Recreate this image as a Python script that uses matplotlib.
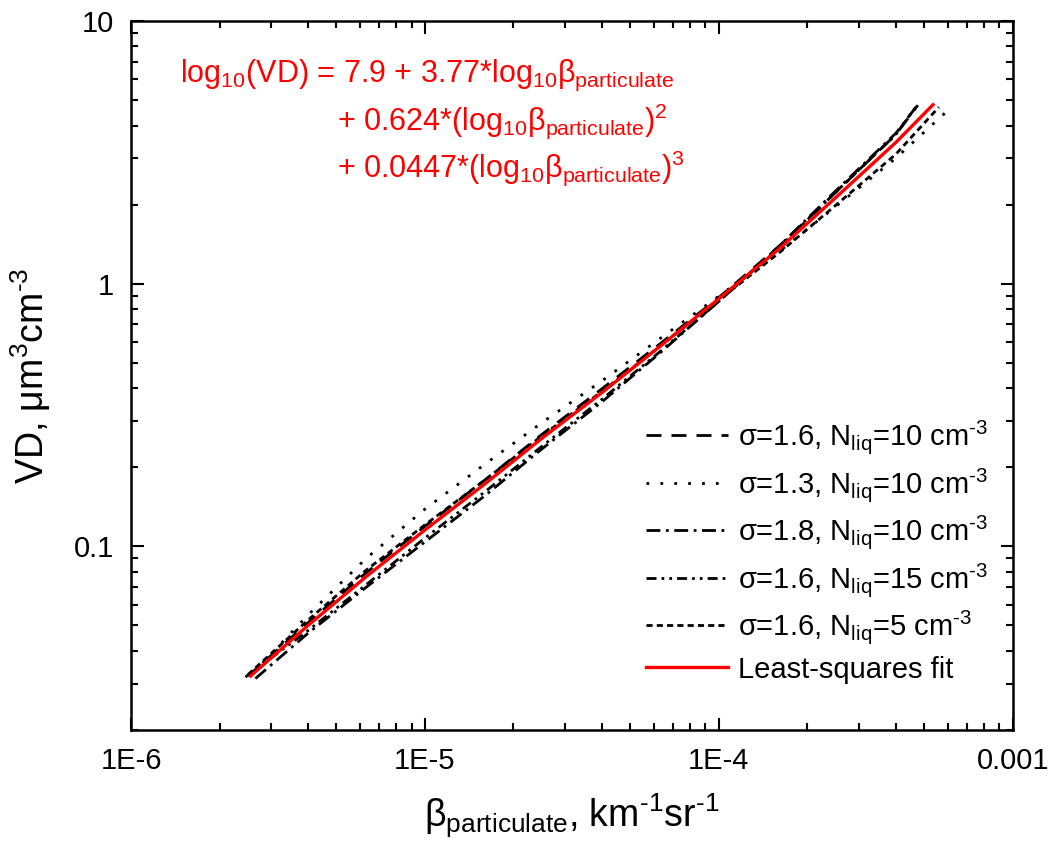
import numpy as np
import matplotlib
matplotlib.use('Agg')
import matplotlib.pyplot as plt

plt.rcParams['font.family'] = ['Liberation Sans', 'DejaVu Sans']
plt.rcParams['mathtext.fontset'] = 'custom'
plt.rcParams['mathtext.rm'] = 'Liberation Sans'
plt.rcParams['mathtext.it'] = 'Liberation Sans:italic'

# dane
beta = [2.5e-6, 4e-6, 6.3e-6, 1e-5, 1.6e-5, 2.5e-5, 4e-5, 6.3e-5, 1e-4, 1.6e-4, 2.5e-4, 4e-4]

# sigma=1.6, N=10
x_a = beta + [4.75e-4]
vd_a = [0.0321, 0.0512, 0.0793, 0.1194, 0.179, 0.267, 0.398, 0.590, 0.887, 1.387, 2.23, 3.70, 4.78]
# sigma=1.3, N=10
x_b = [2.6e-6] + beta[1:] + [6.05e-4]
vd_b = [0.0329, 0.0548, 0.0899, 0.1387, 0.2056, 0.2958, 0.4266, 0.618, 0.897, 1.324, 1.968, 3.006, 4.6]
# sigma=1.8, N=10
x_c = [2.65e-6] + beta[1:] + [4.75e-4]
vd_c = [0.0314, 0.0467, 0.0698, 0.1040, 0.156, 0.235, 0.355, 0.545, 0.857, 1.387, 2.26, 3.74, 4.8]
# sigma=1.6, N=15
x_d = [2.45e-6] + beta[1:] + [4.7e-4]
vd_d = [0.0318, 0.0478, 0.0714, 0.1076, 0.1614, 0.2404, 0.3631, 0.5508, 0.857, 1.371, 2.234, 3.698, 4.75]
# sigma=1.6, N=5
x_e = beta + [5.6e-4]
vd_e = [0.0325, 0.0524, 0.0811, 0.1208, 0.179, 0.2636, 0.389, 0.577, 0.867, 1.309, 1.991, 3.112, 4.7]
# dopasowanie
x_fit = [2.55e-6] + beta[1:] + [5.35e-4]
vd_fit = [0.0321, 0.050, 0.0766, 0.1155, 0.173, 0.258, 0.385, 0.577, 0.877, 1.355, 2.13, 3.45, 4.80]

labels = ['σ=1.6, N$_{\\mathregular{liq}}$=10 cm$^{\\mathregular{‐3}}$',
          'σ=1.3, N$_{\\mathregular{liq}}$=10 cm$^{\\mathregular{‐3}}$',
          'σ=1.8, N$_{\\mathregular{liq}}$=10 cm$^{\\mathregular{‐3}}$',
          'σ=1.6, N$_{\\mathregular{liq}}$=15 cm$^{\\mathregular{‐3}}$',
          'σ=1.6, N$_{\\mathregular{liq}}$=5 cm$^{\\mathregular{‐3}}$',
          'Least-squares fit']

fig = plt.figure(figsize=(10.54, 8.56), dpi=100)
ax = fig.add_axes([0.1243, 0.1472, 0.8367, 0.8283])

lw = 2.0
ax.plot(x_a, vd_a, color='black', lw=lw, linestyle=(0, (5.4, 3.6)), label=labels[0])
ax.plot(x_b, vd_b, color='black', lw=lw, linestyle=(0, (1, 4)), label=labels[1])
ax.plot(x_c, vd_c, color='black', lw=lw, linestyle=(0, (5, 2, 1, 2)), label=labels[2])
ax.plot(x_d, vd_d, color='black', lw=lw, linestyle=(0, (3.6, 1.8, 1, 1.8, 1, 1.8)), label=labels[3])
ax.plot(x_e, vd_e, color='black', lw=lw, linestyle=(0, (2.2, 1.5)), label=labels[4])
ax.plot(x_fit, vd_fit, color='red', lw=2.4, label=labels[5])

ax.set_xscale('log')
ax.set_yscale('log')
ax.set_xlim(1e-6, 1e-3)
ax.set_ylim(0.02, 10)
ax.set_xticks([1e-6, 1e-5, 1e-4, 1e-3])
ax.set_xticklabels(['1E-6', '1E-5', '1E-4', '0.001'])
ax.set_yticks([0.1, 1, 10])
ax.set_yticklabels(['0.1', '1', '10'])

ax.tick_params(which='both', direction='in', top=True, right=True, labelsize=21, pad=12, width=1.5)
ax.tick_params(which='major', length=9)
ax.tick_params(which='minor', length=5)
for s in ax.spines.values():
    s.set_linewidth(1.8)

ax.set_xlabel('β$_{\\mathregular{particulate}}$, km$^{\\mathregular{‐1}}$sr$^{\\mathregular{‐1}}$', fontsize=27, labelpad=12)
ax.set_ylabel('VD, μm$^{\\mathregular{3}}$cm$^{\\mathregular{‐3}}$', fontsize=27, labelpad=15)

ax.text(0.0556, 0.914, 'log$_{\\mathregular{10}}$(VD) = 7.9 + 3.77*log$_{\\mathregular{10}}$β$_{\\mathregular{particulate}}$',
        transform=ax.transAxes, color='red', fontsize=22, va='baseline')
ax.text(0.2336, 0.846, '+ 0.624*(log$_{\\mathregular{10}}$β$_{\\mathregular{particulate}}$)$^{\\mathregular{2}}$',
        transform=ax.transAxes, color='red', fontsize=22, va='baseline')
ax.text(0.2336, 0.780, '+ 0.0447*(log$_{\\mathregular{10}}$β$_{\\mathregular{particulate}}$)$^{\\mathregular{3}}$',
        transform=ax.transAxes, color='red', fontsize=22, va='baseline')

ax.legend(loc='lower right', bbox_to_anchor=(0.985, 0.049), frameon=False, fontsize=21,
          handlelength=2.8, handletextpad=0.35, labelspacing=0.33, borderaxespad=0)

fig.savefig('out.png', dpi=100)
